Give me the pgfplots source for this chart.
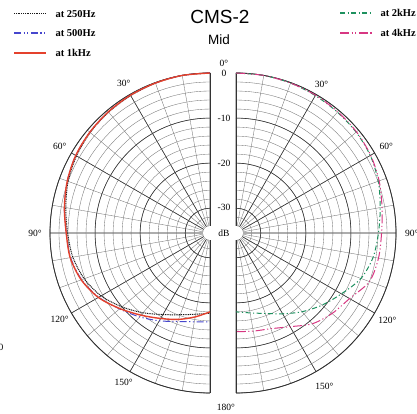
\documentclass[border=0pt]{standalone}
\usepackage{pgfplots}
\pgfplotsset{compat=1.18}
\usepackage{pgfplotstable}
\usepgfplotslibrary{polar}
\usepackage{fontspec}
\setmainfont{Liberation Serif}
\newfontfamily\titlefont{Liberation Sans}

\definecolor{c250}{RGB}{25,25,25}
\definecolor{c500}{RGB}{70,70,205}
\definecolor{c1k}{RGB}{228,65,45}
\definecolor{c2k}{RGB}{30,145,95}
\definecolor{c4k}{RGB}{215,55,130}

% angle from front (deg), level (dB)
\pgfplotstableread{
a db
0 0
10 0
20 -0.1
30 -0.3
40 -0.5
50 -0.8
60 -1.3
70 -2.0
80 -3.0
90 -3.9
100 -4.6
110 -5.8
120 -7.6
130 -10.0
140 -12.4
150 -14.6
160 -16.2
170 -17.2
180 -17.7
}\tlow
\pgfplotstableread{
a db
0 0
10 0
20 -0.1
30 -0.2
40 -0.4
50 -0.7
60 -1.1
70 -1.8
80 -2.7
90 -3.6
100 -4.1
110 -5.2
120 -7.0
130 -9.3
140 -11.2
150 -13.0
160 -14.6
170 -15.5
180 -15.8
}\tfive
\pgfplotstableread{
a db
0 0
10 0
20 -0.1
30 -0.2
40 -0.4
50 -0.7
60 -1.1
70 -1.8
80 -2.7
90 -3.6
100 -4.0
110 -5.1
120 -6.9
130 -9.4
140 -11.7
150 -13.6
160 -15.1
170 -16.6
180 -18.0
}\tone
\pgfplotstableread{
a db
0 0
10 0
20 -0.1
30 -0.3
40 -0.5
50 -0.7
60 -1.1
70 -1.9
80 -3.0
90 -3.9
100 -4.6
110 -6.0
120 -8.5
130 -10.6
140 -12.7
150 -14.8
160 -16.5
170 -17.5
180 -18.0
}\ttwo
\pgfplotstableread{
a db
0 0
10 0
20 -0.1
30 -0.2
40 -0.4
50 -0.6
60 -1.0
70 -1.7
80 -2.6
90 -3.2
100 -3.4
110 -4.0
120 -6.4
130 -7.7
140 -9.2
150 -11.5
160 -12.9
170 -13.4
180 -13.6
}\tfour

\tikzset{
  s250/.style={c250, dash pattern=on 1pt off 0.8pt},
  s500/.style={c500, dash pattern=on 7pt off 2.5pt on 1.2pt off 2.5pt on 1.2pt off 2.5pt},
  s1k/.style={c1k, line width=1.4pt},
  s2k/.style={c2k, dash pattern=on 5pt off 2.5pt on 1.2pt off 2.5pt},
  s4k/.style={c4k, dash pattern=on 9pt off 2.5pt on 1.2pt off 2.5pt on 1.2pt off 2.5pt},
}
\pgfplotsset{
  half/.style={
    scale only axis, width=320pt, height=320pt,
    anchor=origin, clip=false,
    ymin=0, ymax=35.5,
    ytick={5.5,15.5,25.5,35.5},
    minor ytick={1.5,3.5,...,33.5},
    grid=both,
    major grid style={black!78, line width=0.6pt},
    minor grid style={black!55, line width=0.35pt},
    axis line style={black!80, line width=0.8pt},
    xticklabels={}, yticklabels={},
    major tick length=0pt, minor tick length=0pt,
  },
  curve/.style={smooth, line width=1pt},
}

\begin{document}
\begin{tikzpicture}[font=\fontsize{9.5}{11}\selectfont]
\path[use as bounding box] (0pt,0pt) rectangle (417pt,414pt);

% left half: 250 Hz, 500 Hz, 1 kHz
\begin{polaraxis}[half, at={(210pt,181pt)},
    xmin=90, xmax=270,
    xtick={90,120,...,270}, minor xtick={100,110,...,260}]
  \fill[white] (axis cs:0,0) circle[radius=7pt];
  \addplot[curve, s250]
    table[x expr=90+\thisrow{a}, y expr=\thisrow{db}+35.5] {\tlow};
  \addplot[curve, s500]
    table[x expr=90+\thisrow{a}, y expr=\thisrow{db}+35.5] {\tfive};
  \addplot[curve, s1k]
    table[x expr=90+\thisrow{a}, y expr=\thisrow{db}+35.5] {\tone};
  \node at (axis cs:120,38.3) {30°};
  \node at (axis cs:150,38.5) {60°};
  \node at (axis cs:180,38.8) {90°};
  \node at (axis cs:210,38.5) {120°};
  \node at (axis cs:240,38.3) {150°};
\end{polaraxis}

% right half: 2 kHz, 4 kHz
\begin{polaraxis}[half, at={(236pt,181pt)},
    xmin=-90, xmax=90,
    xtick={-90,-60,...,90}, minor xtick={-80,-70,...,80}]
  \fill[white] (axis cs:0,0) circle[radius=7pt];
  \addplot[curve, s2k]
    table[x expr=90-\thisrow{a}, y expr=\thisrow{db}+35.5] {\ttwo};
  \addplot[curve, s4k]
    table[x expr=90-\thisrow{a}, y expr=\thisrow{db}+35.5] {\tfour};
  \node at (axis cs:60,38.0) {30°};
  \node at (axis cs:30,38.5) {60°};
  \node at (axis cs:0,39.0) {90°};
  \node at (axis cs:-30,38.8) {120°};
  \node at (axis cs:-60,39.2) {150°};
\end{polaraxis}

% level scale between the halves
\node at (224pt,351pt) {0°};
\node at (224pt,341pt) {0};
\node at (224pt,296pt) {-10};
\node at (224pt,251pt) {-20};
\node at (224pt,207pt) {-30};
\node at (224pt,181pt) {dB};
\node at (226pt,7pt) {180°};
\node at (1pt,67pt) {0};

% titles
\node[font=\titlefont\fontsize{19}{22}\selectfont] at (220pt,397pt) {CMS-2};
\node[font=\titlefont\fontsize{13.5}{16}\selectfont] at (219pt,374pt) {Mid};

% legends
\begin{scope}[font=\bfseries\fontsize{10.5}{12}\selectfont]
\draw[s250, line width=1pt] (14pt,400pt) -- (46pt,400pt);
\node[anchor=west] at (52pt,400pt) {at 250Hz};
\draw[s500, line width=1.2pt] (14pt,381pt) -- (46pt,381pt);
\node[anchor=west] at (52pt,381pt) {at 500Hz};
\draw[s1k, line width=1.6pt] (14pt,361pt) -- (46pt,361pt);
\node[anchor=west] at (52pt,361pt) {at 1kHz};
\draw[s2k, line width=1.2pt] (340pt,401pt) -- (373pt,401pt);
\node[anchor=west] at (377pt,401pt) {at 2kHz};
\draw[s4k, line width=1.2pt] (340pt,381pt) -- (373pt,381pt);
\node[anchor=west] at (377pt,381pt) {at 4kHz};
\end{scope}
\end{tikzpicture}
\end{document}
